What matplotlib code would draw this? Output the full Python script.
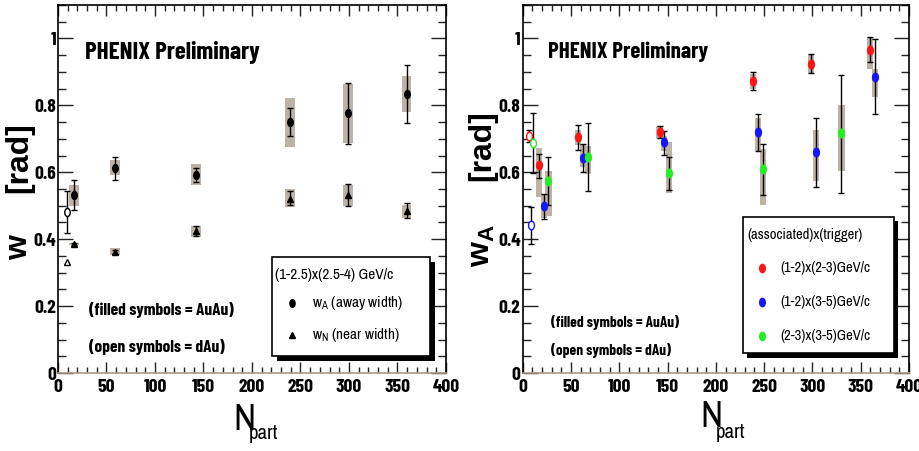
import matplotlib
matplotlib.use("Agg")
import matplotlib.pyplot as plt
from matplotlib import font_manager
from matplotlib.ticker import MultipleLocator, FixedLocator
from matplotlib.patches import Rectangle
from matplotlib.path import Path
from matplotlib.transforms import Affine2D

names = {f.name for f in font_manager.fontManager.ttflist}


def pick(*cands):
    for c in cands:
        if c in names:
            return c
    return "Liberation Sans"


BOLDF = pick("Barlow Condensed", "Fira Sans Extra Condensed", "PT Sans Narrow")
REGF = pick("Archivo Narrow", "PT Sans Narrow", "Roboto Condensed")
WIDEF = pick("Liberation Sans", "DejaVu Sans")
plt.rcParams["font.family"] = [REGF, "DejaVu Sans"]
plt.rcParams["mathtext.default"] = "regular"

# ---------------- left panel data ----------------
npart_A = [16.2, 58.5, 142.4, 239.0, 299.2, 359.4]
wA = [0.531, 0.612, 0.591, 0.750, 0.777, 0.835]
wA_err_lo = [0.486, 0.578, 0.570, 0.707, 0.686, 0.748]
wA_err_hi = [0.577, 0.646, 0.613, 0.791, 0.867, 0.920]
wA_sys_lo = [0.499, 0.591, 0.561, 0.675, 0.688, 0.780]
wA_sys_hi = [0.563, 0.637, 0.625, 0.823, 0.865, 0.889]

wN = [0.386, 0.362, 0.423, 0.521, 0.531, 0.484]
wN_err_lo = [0.383, 0.356, 0.409, 0.501, 0.498, 0.462]
wN_err_hi = [0.389, 0.368, 0.439, 0.543, 0.566, 0.508]
wN_sys_lo = [0.384, 0.352, 0.406, 0.496, 0.500, 0.464]
wN_sys_hi = [0.388, 0.374, 0.439, 0.551, 0.563, 0.503]

dAu_x = 9.3
dAu_wA, dAu_wA_lo, dAu_wA_hi = 0.481, 0.419, 0.545
dAu_wN = 0.332

# ---------------- right panel data ----------------
red_x = [16.9, 57.6, 141.7, 238.6, 298.6, 359.7]
red_y = [0.621, 0.705, 0.719, 0.873, 0.925, 0.966]
red_elo = [0.582, 0.668, 0.702, 0.846, 0.897, 0.931]
red_ehi = [0.656, 0.740, 0.738, 0.900, 0.953, 1.003]
red_slo = [0.525, 0.682, 0.700, 0.849, 0.898, 0.910]
red_shi = [0.674, 0.725, 0.738, 0.895, 0.952, 1.003]
red_dAu = (6.9, 0.708, 0.690, 0.727)

blue_x = [21.7, 62.8, 146.6, 243.8, 303.8, 364.8]
blue_y = [0.498, 0.643, 0.689, 0.721, 0.660, 0.886]
blue_elo = [0.459, 0.600, 0.653, 0.663, 0.557, 0.775]
blue_ehi = [0.535, 0.684, 0.723, 0.774, 0.763, 0.997]
blue_slo = [0.464, 0.615, 0.663, 0.663, 0.573, 0.825]
blue_shi = [0.533, 0.684, 0.708, 0.761, 0.725, 0.910]
blue_dAu = (8.6, 0.441, 0.386, 0.497)

green_x = [26.6, 67.6, 151.7, 248.6, 330.0]
green_y = [0.574, 0.646, 0.597, 0.609, 0.716]
green_elo = [0.503, 0.545, 0.548, 0.531, 0.538]
green_ehi = [0.646, 0.747, 0.646, 0.684, 0.892]
green_slo = [0.469, 0.595, 0.538, 0.502, 0.603]
green_shi = [0.605, 0.680, 0.691, 0.671, 0.802]
green_dAu = (11.0, 0.687, 0.599, 0.776)

x_ticks = [0, 50, 100, 150, 200, 250, 300, 350, 400]
x_ticklabels = ["0", "50", "100", "150", "200", "250", "300", "350", "400"]
y_ticks = [0, 0.2, 0.4, 0.6, 0.8, 1.0]
y_ticklabels = ["0", "0.2", "0.4", "0.6", "0.8", "1"]

left_legend_title = "(1-2.5)x(2.5-4) GeV/c"
left_legend_labels = [r"w$_A$ (away width)", r"w$_N$ (near width)"]
right_legend_title = "(associated)x(trigger)"
right_legend_labels = ["(1-2)x(2-3)GeV/c", "(1-2)x(3-5)GeV/c", "(2-3)x(3-5)GeV/c"]

SYS = "#bdb2a6"
RED, BLUE, GREEN = "#ff1515", "#1515ff", "#22f022"
ELL = Path(Affine2D().scale(0.68, 1.0).transform(Path.unit_circle().vertices),
           Path.unit_circle().codes)

fig = plt.figure(figsize=(9.2, 4.51), dpi=100)
axL = fig.add_axes([58 / 920, 78 / 451, 388 / 920, 368 / 451])
axR = fig.add_axes([522.7 / 920, 78 / 451, 386.3 / 920, 368 / 451])


def style(ax):
    ax.set_xlim(0, 400)
    ax.set_ylim(0, 1.1)
    ax.xaxis.set_major_locator(FixedLocator(x_ticks))
    ax.set_xticklabels(x_ticklabels)
    ax.xaxis.set_minor_locator(MultipleLocator(10))
    ax.yaxis.set_major_locator(FixedLocator(y_ticks))
    ax.set_yticklabels(y_ticklabels)
    ax.yaxis.set_minor_locator(MultipleLocator(0.05))
    ax.tick_params(which="both", direction="in", top=True, right=True,
                   width=1.0, color="#222222")
    ax.tick_params(axis="y", which="major", length=11, pad=1.5)
    ax.tick_params(axis="y", which="minor", length=5.5)
    ax.tick_params(axis="x", which="major", length=8, pad=4.5)
    ax.tick_params(axis="x", which="minor", length=4.5)
    for lab in ax.get_xticklabels() + ax.get_yticklabels():
        lab.set_fontsize(14)
        lab.set_fontweight("bold")
        lab.set_family(BOLDF)
    for s in ax.spines.values():
        s.set_linewidth(1.2)
    ax.spines["bottom"].set_color("#a89a8c")


def sysbox(ax, xs, lo, hi, w):
    ax.bar(xs, [h - l for l, h in zip(lo, hi)], bottom=lo, width=w,
           color=SYS, edgecolor="none", zorder=1)


def errs(ax, xs, ys, lo, hi, color, marker, ms, mfc=None):
    yerr = [[y - l for y, l in zip(ys, lo)], [h - y for y, h in zip(ys, hi)]]
    ax.errorbar(xs, ys, yerr=yerr, fmt="none", ecolor="black", elinewidth=1.0,
                capsize=2.0, capthick=1.0, zorder=2)
    ax.plot(xs, ys, linestyle="none", marker=marker, ms=ms, color=color,
            mfc=mfc if mfc else color, mec=color, mew=1.0, zorder=3)


def legend_box(ax, x0, y0, x1, y1, title, tx, ty, entries, mx, lx, fs):
    sx, sy = 4.5 / 388, 4.5 / 368
    ax.add_patch(Rectangle((x0 + sx, y0 - sy), x1 - x0, y1 - y0, transform=ax.transAxes,
                           facecolor="black", edgecolor="none", zorder=8, clip_on=False))
    ax.add_patch(Rectangle((x0, y0), x1 - x0, y1 - y0, transform=ax.transAxes,
                           facecolor="white", edgecolor="black", lw=1.2, zorder=9,
                           clip_on=False))
    ax.text(tx, ty, title, transform=ax.transAxes, fontsize=fs, family=REGF,
            va="center", ha="left", zorder=10)
    for (label, y, marker, ms, color) in entries:
        ax.plot([mx], [y], transform=ax.transAxes, ls="none", marker=marker, ms=ms,
                color=color, mec=color, zorder=10, clip_on=False)
        ax.text(lx, y, label, transform=ax.transAxes, fontsize=fs, family=REGF,
                va="center", ha="left", zorder=10)


# ---- left
style(axL)
sysbox(axL, npart_A, wA_sys_lo, wA_sys_hi, 10)
sysbox(axL, npart_A, wN_sys_lo, wN_sys_hi, 10)
errs(axL, npart_A, wA, wA_err_lo, wA_err_hi, "black", ELL, 5.8)
errs(axL, npart_A, wN, wN_err_lo, wN_err_hi, "black", "^", 4.8)
errs(axL, [dAu_x], [dAu_wA], [dAu_wA_lo], [dAu_wA_hi], "black", ELL, 5.8, mfc="white")
axL.plot([dAu_x], [dAu_wN], linestyle="none", marker="^", ms=4.8, mfc="white",
         mec="black", mew=1.0, zorder=3)

axL.text(0.07, 0.853, "PHENIX Preliminary", transform=axL.transAxes,
         fontsize=18, fontweight="bold", family=BOLDF, va="baseline", ha="left")
axL.text(0.08, 0.170, "(filled symbols = AuAu)", transform=axL.transAxes,
         fontsize=12.5, fontweight="bold", family=BOLDF, va="center")
axL.text(0.08, 0.072, "(open symbols = dAu)", transform=axL.transAxes,
         fontsize=12.5, fontweight="bold", family=BOLDF, va="center")

legend_box(axL, 0.552, 0.046, 0.959, 0.315, left_legend_title, 0.559, 0.266,
           [(left_legend_labels[0], 0.190, ELL, 5.5, "black"),
            (left_legend_labels[1], 0.103, "^", 4.8, "black")],
           0.603, 0.655, 11)

fig.text(0.021, 0.452, "w", rotation=90, fontsize=23, fontweight="bold",
         family=WIDEF, ha="center", va="center")
fig.text(0.021, 0.65, "[rad]", rotation=90, fontsize=23, fontweight="bold",
         family=WIDEF, ha="center", va="center")
fig.text(233 / 920, 0.047, "N", fontsize=27, family=REGF, ha="left", va="baseline")
fig.text(249 / 920, 0.027, "part", fontsize=15, family=REGF, ha="left", va="baseline")

# ---- right
style(axR)
sysbox(axR, red_x, red_slo, red_shi, 6.5)
sysbox(axR, blue_x, blue_slo, blue_shi, 6.5)
sysbox(axR, green_x, green_slo, green_shi, 6.5)
errs(axR, red_x, red_y, red_elo, red_ehi, RED, ELL, 6.2)
errs(axR, blue_x, blue_y, blue_elo, blue_ehi, BLUE, ELL, 6.2)
errs(axR, green_x, green_y, green_elo, green_ehi, GREEN, ELL, 6.2)
for (x, y, lo, hi), c in [(red_dAu, RED), (blue_dAu, BLUE), (green_dAu, GREEN)]:
    errs(axR, [x], [y], [lo], [hi], c, ELL, 6.2, mfc="white")

axR.text(0.066, 0.856, "PHENIX Preliminary", transform=axR.transAxes,
         fontsize=16.5, fontweight="bold", family=BOLDF, va="baseline", ha="left")
axR.text(0.073, 0.136, "(filled symbols = AuAu)", transform=axR.transAxes,
         fontsize=11, fontweight="bold", family=BOLDF, va="center")
axR.text(0.073, 0.0625, "(open symbols = dAu)", transform=axR.transAxes,
         fontsize=11, fontweight="bold", family=BOLDF, va="center")

legend_box(axR, 0.570, 0.054, 0.961, 0.424, right_legend_title, 0.581, 0.375,
           [(right_legend_labels[0], 0.285, ELL, 6, RED),
            (right_legend_labels[1], 0.193, ELL, 6, BLUE),
            (right_legend_labels[2], 0.101, ELL, 6, GREEN)],
           0.619, 0.666, 10.5)

fig.text(0.524, 0.455, r"w$_A$", rotation=90, fontsize=23, fontweight="bold",
         family=WIDEF, ha="center", va="center")
fig.text(0.524, 0.678, "[rad]", rotation=90, fontsize=23, fontweight="bold",
         family=WIDEF, ha="center", va="center")
fig.text(700 / 920, 0.053, "N", fontsize=27, family=REGF, ha="left", va="baseline")
fig.text(716 / 920, 0.029, "part", fontsize=15, family=REGF, ha="left", va="baseline")

fig.savefig("out.png", dpi=100)
